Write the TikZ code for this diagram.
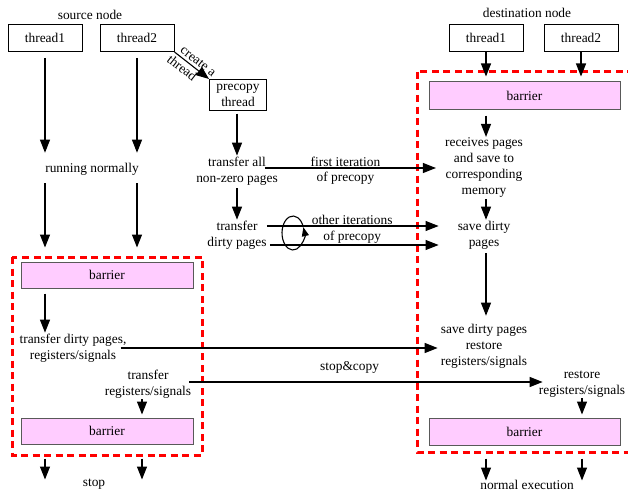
\documentclass[tikz,border=0pt]{standalone}
\usepackage{fontspec}
\setmainfont{Liberation Serif}
\usetikzlibrary{positioning,calc,arrows.meta}
\definecolor{barrierpink}{RGB}{255,204,255}

\begin{document}
\begin{tikzpicture}[x=1pt,y=-1pt,>={Triangle[length=13pt,width=10pt]},font=\fontsize{13.4}{16}\selectfont]
    \tikzstyle{every node}=[inner sep=1,align=center]
    \tikzstyle{note}=[draw=none,fill=none]
    \tikzstyle{thread}=[draw,fill=white,line width=1,minimum width=74,minimum height=27,inner sep=2]
    \tikzstyle{barrier}=[draw=black!65,fill=barrierpink,line width=1,minimum width=191,minimum height=27]
    \tikzstyle{flow}=[->,line width=1.1]
    \tikzstyle{zone}=[draw=red,line width=3,dash pattern=on 7pt off 4.5pt]
    {
        \clip (0,0) rectangle (628,492);

        % source node
        \node[note] (labels) at (90,15) {source node};
        \node[thread] (sa) at (45,38) {thread1};
        \node[thread] (sb) at (137,38) {thread2};
        \node[thread,minimum width=57,minimum height=31] (pc) at (238,95) {precopy\\thread};

        \node[note] (run) at (92,169) {running normally};
        \node[barrier,minimum width=172,minimum height=26] (sb1) at (107,275) {barrier};
        \node[note] (tdirty) at (73,348) {transfer dirty pages,\\registers/signals};
        \node[note] (treg) at (148,384) {transfer\\registers/signals};
        \node[barrier,minimum width=172,minimum height=26] (sb2) at (107,431) {barrier};
        \node[note] (stop) at (94,484) {stop};

        \node[note] (tall) at (237,171) {transfer all\\non-zero pages};
        \node[note] (tdp) at (237,235) {transfer\\dirty pages};

        % destination node
        \node[note] (labeld) at (527,13) {destination node};
        \node[thread] (da) at (486,38) {thread1};
        \node[thread] (db) at (581,38) {thread2};
        \node[barrier] (db1) at (524.5,95.5) {barrier};
        \node[note] (recv) at (484,168) {receives pages\\and save to\\corresponding\\memory};
        \node[note] (sdirty) at (484,235) {save dirty\\pages};
        \node[note] (srestore) at (484,346) {save dirty pages\\restore\\registers/signals};
        \node[note] (drestore) at (582,384) {restore\\registers/signals};
        \node[barrier] (db2) at (524.5,431.5) {barrier};
        \node[note] (normal) at (527,485) {normal execution};

        % stop-and-copy zones
        \draw[zone] (12,257) rectangle (202,455);
        \draw[zone] (417,72) rectangle (640,452);

        % source side
        \draw[flow,shorten <=6,shorten >=9] (sa.south) -- (sa.south |- run.north);
        \draw[flow,shorten <=6,shorten >=9] (sb.south) -- (sb.south |- run.north);
        \draw[flow,shorten <=7,shorten >=14] (run.south -| sa) -- (sb1.north -| sa);
        \draw[flow,shorten <=7,shorten >=14] (run.south -| sb) -- (sb1.north -| sb);
        \draw[flow,shorten <=5] (sb1.south -| sa) -- (tdirty.north -| sa);
        \draw[flow,shorten >=3] (treg.south) ++(-6,0) coordinate (tb) -- (tb |- sb2.north);
        \draw[flow] (sb2.south -| sa) ++(0,14) -- ++(0,21);
        \draw[flow] (sb2.south -| tb) ++(0,14) -- ++(0,21);

        \draw[flow] (sb.south east) -- node[sloped,above=1.5pt,pos=0.56] {create a} node[sloped,below=1.5pt,pos=0.36] {thread} (pc.north west);
        \draw[flow,shorten <=2.5] (tall |- pc.south) -- (tall);
        \draw[flow,shorten <=2] (tall) -- (tdp);

        % destination side
        \draw[flow,shorten >=5] (da.south) -- (da.south |- db1.north);
        \draw[flow,shorten >=5] (db.south) -- (db.south |- db1.north);
        \draw[flow,shorten <=6] (db1.south -| da) -- (recv.north -| da);
        \draw[flow] (recv.south -| da) -- (sdirty.north -| da);
        \draw[flow,shorten <=3,shorten >=7] (sdirty.south -| da) -- (srestore.north -| da);
        \draw[flow,shorten >=3] (drestore.south) -- (db2.north -| drestore);
        \draw[flow] (db2.south -| da) ++(0,13) -- ++(0,22);
        \draw[flow] (db2.south -| drestore) ++(0,13) -- ++(0,22);

        % transfers between the nodes
        \draw[flow,shorten >=8] (tall.east) ++(-14,-3) coordinate (fi) -- node[pos=0.45,above=0pt] {first iteration} node[pos=0.45,below=3pt] {of precopy} (fi -| recv.west);
        \draw[flow,shorten >=18] (tdp.east) ++(-1,-9) coordinate (oi) -- node[pos=0.45,above=0pt] {other iterations} node[pos=0.45,below=4pt] {of precopy} (oi -| sdirty.west);
        \draw[flow,shorten >=18] (tdp.east) ++(2,10) coordinate (oj) -- (oj -| sdirty.west);
        \draw[->,>={Triangle[length=9pt,width=7pt]},line width=1.1] (293,233) ++(340:11 and 17) arc[start angle=340,end angle=-20,x radius=11,y radius=17];
        \draw[flow,shorten >=2] (tdirty.east) ++(-7,0) coordinate (td) -- (td -| srestore.west);
        \draw[flow,shorten >=-5] (treg.east) ++(-3,-2) coordinate (tr) -- node[pos=0.46,above=7pt] {stop\&copy} (tr -| drestore.west);
    }
\end{tikzpicture}
\end{document}
